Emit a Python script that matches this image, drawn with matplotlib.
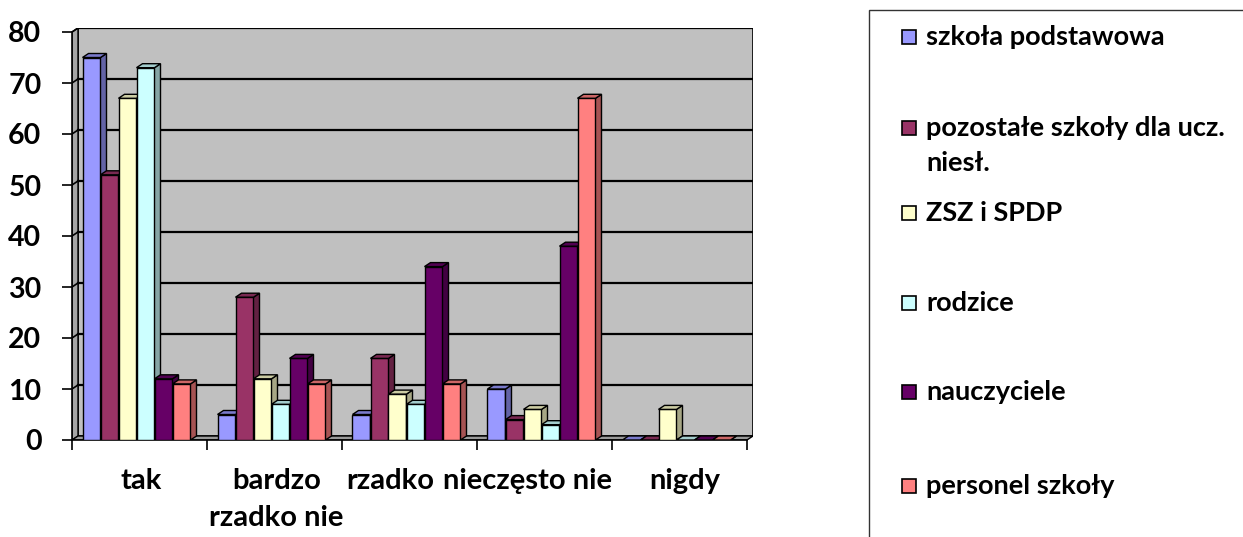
import numpy as np
import matplotlib.pyplot as plt
import matplotlib.transforms as mtransforms
from matplotlib.patches import Polygon, Rectangle
from matplotlib import colors as mcolors

plt.rcParams['font.family'] = ['Lato', 'DejaVu Sans']
plt.rcParams['font.weight'] = 'bold'

# dane
categories = ['tak', 'bardzo\nrzadko nie', 'rzadko', 'nieczęsto nie', 'nigdy']
series_names = ['szkoła podstawowa', 'pozostałe szkoły dla ucz.\nniesł.', 'ZSZ i SPDP',
                'rodzice', 'nauczyciele', 'personel szkoły']
szkola_podstawowa = [75, 5, 5, 10, 0]
pozostale_szkoly = [52, 28, 16, 4, 0]
zsz_spdp = [67, 12, 9, 6, 6]
rodzice = [73, 7, 7, 3, 0]
nauczyciele = [12, 16, 34, 38, 0]
personel = [11, 11, 11, 67, 0]
y_ticks = [0, 10, 20, 30, 40, 50, 60, 70, 80]

values = [szkola_podstawowa, pozostale_szkoly, zsz_spdp, rodzice, nauczyciele, personel]
bar_colors = ['#9999FF', '#993366', '#FFFFCC', '#CCFFFF', '#660066', '#FF8080']

W, H = 1243, 537
fig = plt.figure(figsize=(W / 100, H / 100), dpi=100)
ax = fig.add_axes([72 / W, (H - 440) / H, (753 - 72) / W, (440 - 28) / H])

# glebokosc efektu 3D (w jednostkach danych)
dx = 6 / 135
dy = 4 / 5.1
n_cat = len(categories)
ax.set_xlim(0, n_cat + dx)
ax.set_ylim(-dy, 80)

# sciana tylna, boczna i podloga
ax.add_patch(Rectangle((dx, 0), n_cat, 80, facecolor='#C0C0C0', edgecolor='black', lw=1.2, zorder=0))
ax.add_patch(Polygon([(0, -dy), (dx, 0), (dx, 80), (0, 80 - dy)], closed=True,
                     facecolor='#A6A6A6', edgecolor='black', lw=1.0, zorder=0))
ax.add_patch(Polygon([(0, -dy), (n_cat, -dy), (n_cat + dx, 0), (dx, 0)], closed=True,
                     facecolor='#9A9A9A', edgecolor='black', lw=1.0, zorder=0.5))
for v in y_ticks[1:]:
    ax.plot([dx, n_cat + dx], [v, v], color='black', lw=1.6, zorder=1)
    ax.plot([0, dx], [v - dy, v], color='black', lw=1.2, zorder=1)

# slupki
w = 18 / 135
x = np.arange(n_cat) + 0.5
for j, (vals, col) in enumerate(zip(values, bar_colors)):
    xs = x + (j - 2.5) * w - dx / 2
    bars = ax.bar(xs, vals, width=w, bottom=-dy, color=col, edgecolor='black',
                  lw=1.0, zorder=3 + j)
    rgb = np.array(mcolors.to_rgb(col))
    for b, v in zip(bars, vals):
        x0 = b.get_x()
        top = [(x0, v - dy), (x0 + dx, v), (x0 + w + dx, v), (x0 + w, v - dy)]
        side = [(x0 + w, -dy), (x0 + w + dx, 0), (x0 + w + dx, v), (x0 + w, v - dy)]
        ax.add_patch(Polygon(side, closed=True, facecolor=rgb * 0.65, edgecolor='black',
                             lw=1.0, zorder=3 + j))
        ax.add_patch(Polygon(top, closed=True, facecolor=rgb * 0.8, edgecolor='black',
                             lw=1.0, zorder=3 + j))

# osie
for s in ['top', 'right']:
    ax.spines[s].set_visible(False)
ax.spines['left'].set_bounds(-dy, 80 - dy)
ax.spines['bottom'].set_bounds(0, n_cat)
ax.spines['left'].set_linewidth(1.2)
ax.spines['bottom'].set_linewidth(1.2)
ax.set_facecolor('none')

ax.set_yticks(np.array(y_ticks) - dy)
ax.set_yticklabels([str(t) for t in y_ticks], fontsize=20.5, fontweight='bold')
ax.tick_params(axis='y', length=7, width=1.2, pad=15)

ax.set_xticks(np.arange(n_cat + 1))
ax.set_xticklabels([])
ax.tick_params(axis='x', which='major', length=7, width=1.2)
ax.set_xticks(x, minor=True)
ax.set_xticklabels(categories, minor=True, fontsize=21, fontweight='bold', linespacing=1.55)
ax.tick_params(axis='x', which='minor', length=0, pad=20)

# przesuniecie etykiet jak w oryginale
shifts = [2, 2, -19, -17, 5]
for lab, sh in zip(ax.get_xticklabels(minor=True), shifts):
    lab.set_transform(lab.get_transform() + mtransforms.ScaledTranslation(sh / 100, 0, fig.dpi_scale_trans))

# legenda
fig.patches.append(Rectangle((869 / W, 1 - 560 / H), 420 / W, 550 / H, transform=fig.transFigure,
                             facecolor='white', edgecolor='#333333', lw=1.0, zorder=0))
leg_y = [37, 128, 213, 303, 392, 486]
for name, col, yy in zip(series_names, bar_colors, leg_y):
    fig.patches.append(Rectangle((902 / W, 1 - (yy + 7) / H), 14 / W, 14 / H,
                                 transform=fig.transFigure, facecolor=col,
                                 edgecolor='black', lw=1.2, zorder=2))
    fig.text(926 / W, 1 - (yy - 12) / H, name, fontsize=19.5, fontweight='bold',
             va='top', ha='left', linespacing=1.55)

fig.savefig('out.png', dpi=100)
